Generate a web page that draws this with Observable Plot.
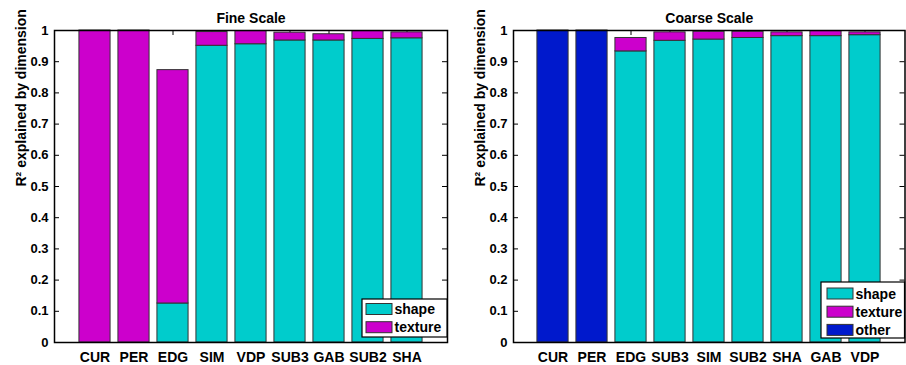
<!DOCTYPE html>
<html><head><meta charset="utf-8">
<script src="https://cdn.jsdelivr.net/npm/d3@7"></script>
<script src="https://cdn.jsdelivr.net/npm/@observablehq/plot@0.6"></script>
<style>
body{margin:0;background:#fff;}
#wrap{position:relative;width:906px;height:365px;font-family:"Liberation Sans",Arial,sans-serif;}
#wrap > svg{position:absolute;top:0;}
</style></head><body><div id="wrap"></div>
<script>
const yTicks = [0, 0.1, 0.2, 0.3, 0.4, 0.5, 0.6, 0.7, 0.8, 0.9, 1];
const yTickLabels = ["0", "0.1", "0.2", "0.3", "0.4", "0.5", "0.6", "0.7", "0.8", "0.9", "1"];
const yLabel = "R² explained by dimension";

const seriesNames = ["shape", "texture", "other"];
const seriesColors = ["#00CCCC", "#CC00CC", "#0019CC"];

const fineTitle = "Fine Scale";
const fineCategories = ["CUR", "PER", "EDG", "SIM", "VDP", "SUB3", "GAB", "SUB2", "SHA"];
const fineShape   = [0, 0, 0.125, 0.951, 0.956, 0.968, 0.968, 0.973, 0.975];
const fineTexture = [1, 1, 0.748, 0.044, 0.042, 0.025, 0.020, 0.025, 0.019];

const coarseTitle = "Coarse Scale";
const coarseCategories = ["CUR", "PER", "EDG", "SUB3", "SIM", "SUB2", "SHA", "GAB", "VDP"];
const coarseShape   = [0, 0, 0.933, 0.967, 0.971, 0.976, 0.982, 0.982, 0.985];
const coarseTexture = [0, 0, 0.043, 0.027, 0.025, 0.020, 0.012, 0.016, 0.009];
const coarseOther   = [1, 1, 0, 0, 0, 0, 0, 0, 0];

const FONT = '"Liberation Sans", Arial, Helvetica, sans-serif';

function panel({title, categories, series, legendCount, left, marginLeft, marginRight, legend}) {
  const W = 453, H = 365, mt = 30, mb = 23;
  const fw = W - marginLeft - marginRight, fh = H - mt - mb;
  const step = fw / (categories.length + 1);
  const rows = [];
  series.forEach((vals, s) => vals.forEach((v, i) => {
    if (v > 0) rows.push({cat: categories[i], series: seriesNames[s], value: v});
  }));
  const svg = Plot.plot({
    width: W, height: H, marginLeft, marginRight, marginTop: mt, marginBottom: mb,
    style: {fontFamily: FONT, fontWeight: "bold", background: "white", overflow: "visible", color: "black"},
    x: {domain: categories, padding: 0, insetLeft: step / 2, insetRight: step / 2, axis: null},
    y: {domain: [0, 1], axis: null},
    color: {domain: seriesNames, range: seriesColors},
    marks: [
      Plot.tickY(yTicks, {y: d => d, insetRight: fw - 5, stroke: "black"}),
      Plot.tickY(yTicks, {y: d => d, insetLeft: fw - 5, stroke: "black"}),
      Plot.tickX(categories, {x: d => d, insetBottom: fh - 5, stroke: "black"}),
      Plot.tickX(categories, {x: d => d, insetTop: fh - 5, stroke: "black"}),
      Plot.barY(rows, {x: "cat", y: "value", fill: "series", stroke: "#333", strokeWidth: 1,
        insetLeft: step * 0.1, insetRight: step * 0.1, order: seriesNames}),
      Plot.axisX({anchor: "bottom", tickSize: 0, tickPadding: 10, fontSize: 14, label: null}),
      Plot.axisY({anchor: "left", ticks: yTicks, tickSize: 0, tickPadding: 6, fontSize: 13,
        tickFormat: d => yTickLabels[yTicks.indexOf(d)], label: null}),
      Plot.text([title], {frameAnchor: "top", dy: -17, fontSize: 14, fontWeight: "bold", text: d => d}),
      Plot.text([yLabel], {frameAnchor: "left", dx: -32.5, rotate: -90, fontSize: 14, fontWeight: "bold", text: d => d}),
      Plot.frame({stroke: "black", strokeWidth: 1.5})
    ]
  });
  svg.style.left = left + "px";
  // legend
  const g = d3.select(svg).append("g").attr("font-family", FONT).attr("font-weight", "bold")
    .attr("font-size", 14).attr("text-anchor", "start");
  g.append("rect").attr("x", legend.x).attr("y", legend.y).attr("width", legend.w).attr("height", legend.h)
    .attr("fill", "white").attr("stroke", "black").attr("stroke-width", 1.2);
  seriesNames.slice(0, legendCount).forEach((name, i) => {
    const sy = legend.y + legend.pad + i * 18.2;
    g.append("rect").attr("x", legend.x + legend.sx).attr("y", sy).attr("width", 26).attr("height", 11)
      .attr("fill", seriesColors[i]).attr("stroke", "#333").attr("stroke-width", 1);
    g.append("text").attr("x", legend.x + legend.sx + 28.5).attr("y", sy + 10.5)
      .attr("text-anchor", "start").text(name);
  });
  document.getElementById("wrap").appendChild(svg);
}

panel({title: fineTitle, categories: fineCategories, series: [fineShape, fineTexture],
  legendCount: 2, left: 0, marginLeft: 54, marginRight: 6,
  legend: {x: 362, y: 299, w: 85, h: 38, pad: 4.5, sx: 4}});
panel({title: coarseTitle, categories: coarseCategories, series: [coarseShape, coarseTexture, coarseOther],
  legendCount: 3, left: 453, marginLeft: 60, marginRight: 1.5,
  legend: {x: 368, y: 282, w: 83.5, h: 56, pad: 6, sx: 6}});
</script></body></html>
